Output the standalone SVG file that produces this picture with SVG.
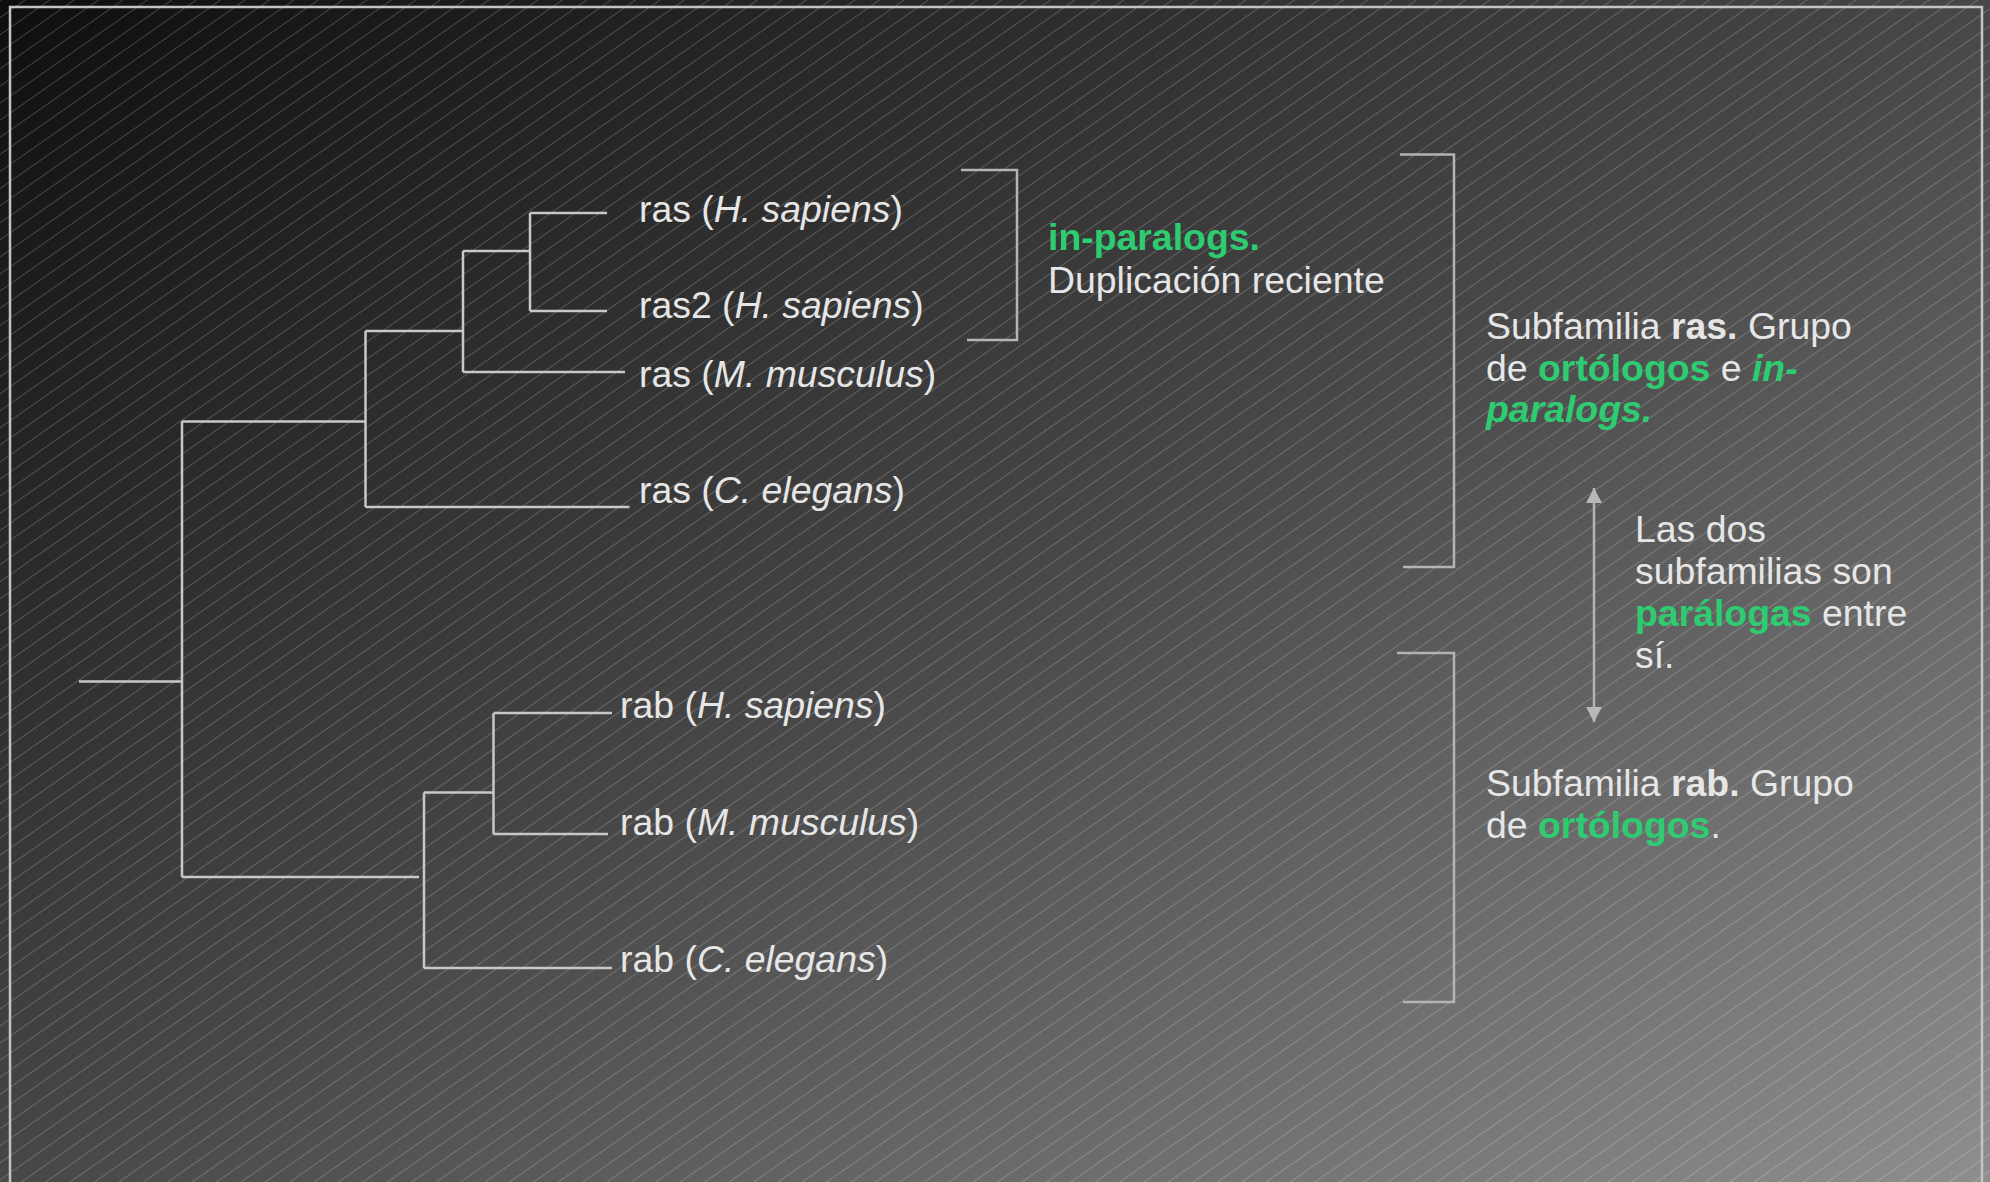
<svg xmlns="http://www.w3.org/2000/svg" width="1990" height="1182" viewBox="0 0 1990 1182">
<defs>
<linearGradient id="bg" x1="0" y1="0" x2="1" y2="1">
<stop offset="0" stop-color="#0e0e0e"/>
<stop offset="0.5" stop-color="#474747"/>
<stop offset="1" stop-color="#8e8e8e"/>
</linearGradient>
<pattern id="hatch" patternUnits="userSpaceOnUse" width="200" height="14" patternTransform="rotate(-35)">
<line x1="0" y1="0.5" x2="200" y2="0.5" stroke="#ffffff" stroke-opacity="0.2" stroke-width="1"/>
</pattern>
<marker id="ah" viewBox="0 0 15 16" refX="15" refY="8" markerWidth="15" markerHeight="16" markerUnits="userSpaceOnUse" orient="auto-start-reverse">
<path d="M0,0 L15,8 L0,16 z" fill="#b8b8b8"/>
</marker>
</defs>
<style>
.t{font-family:"Liberation Sans",Arial,Helvetica,sans-serif;font-size:37.4px;fill:#e6e6e6}
.i{font-style:italic}
.b{font-weight:bold}
.g{fill:#2ecc71;font-weight:bold}
.ln{stroke:#c8c8c8;stroke-width:2.5;fill:none}
.br{stroke:#b4b4b4;stroke-width:2.5;fill:none}
.fr{stroke:#c4c4c4;stroke-width:2.5;fill:none}
</style>
<rect x="0" y="0" width="1990" height="1182" fill="url(#bg)"/>
<rect x="0" y="0" width="1990" height="1182" fill="url(#hatch)"/>
<rect class="fr" x="10" y="7" width="1972" height="1200"/>

<g id="connectors">
<path class="ln" d="M79 681.5H182M182 421.5V877M182 421.5H365.5M182 877H419"/>
<path class="ln" d="M365.5 331V507M365.5 507H629.5M365.5 331H463"/>
<path class="ln" d="M463 251V372M463 372H625M463 251H530"/>
<path class="ln" d="M530 213V311M530 213H607M530 311H607"/>
<path class="ln" d="M424 792.5V968M424 968H612M424 792.5H493.5"/>
<path class="ln" d="M493.5 713V834M493.5 713H612M493.5 834H608"/>
<path class="br" d="M961 170H1017V340H967"/>
<path class="br" d="M1400 154.5H1454V567H1403"/>
<path class="br" d="M1397 653H1454V1002H1403"/>
<line class="br" x1="1594" y1="488" x2="1594" y2="722" marker-start="url(#ah)" marker-end="url(#ah)"/>
</g>

<g id="leaf-ras-hs"><text class="t" x="639" y="222">ras (<tspan class="i">H. sapiens</tspan>)</text></g>
<g id="leaf-ras2-hs"><text class="t" x="639" y="318">ras2 (<tspan class="i">H. sapiens</tspan>)</text></g>
<g id="leaf-ras-mm"><text class="t" x="639" y="387">ras (<tspan class="i">M. musculus</tspan>)</text></g>
<g id="leaf-ras-ce"><text class="t" x="639" y="503">ras (<tspan class="i">C. elegans</tspan>)</text></g>
<g id="leaf-rab-hs"><text class="t" x="620" y="718">rab (<tspan class="i">H. sapiens</tspan>)</text></g>
<g id="leaf-rab-mm"><text class="t" x="620" y="835">rab (<tspan class="i">M. musculus</tspan>)</text></g>
<g id="leaf-rab-ce"><text class="t" x="620" y="972">rab (<tspan class="i">C. elegans</tspan>)</text></g>

<g id="note-inparalogs">
<text class="t" x="1048" y="250"><tspan class="g">in-paralogs.</tspan></text>
<text class="t" x="1048" y="293">Duplicación reciente</text>
</g>
<g id="note-ras">
<text class="t" x="1486" y="339">Subfamilia <tspan class="b">ras.</tspan> Grupo</text>
<text class="t" x="1486" y="380.5">de <tspan class="g">ortólogos</tspan> e <tspan class="g i">in-</tspan></text>
<text class="t" x="1486" y="421.5"><tspan class="g i">paralogs.</tspan></text>
</g>
<g id="note-paralogas">
<text class="t" x="1635" y="542">Las dos</text>
<text class="t" x="1635" y="584">subfamilias son</text>
<text class="t" x="1635" y="626"><tspan class="g">parálogas</tspan> entre</text>
<text class="t" x="1635" y="668">sí.</text>
</g>
<g id="note-rab">
<text class="t" x="1486" y="796">Subfamilia <tspan class="b">rab.</tspan> Grupo</text>
<text class="t" x="1486" y="838">de <tspan class="g">ortólogos</tspan>.</text>
</g>
</svg>
